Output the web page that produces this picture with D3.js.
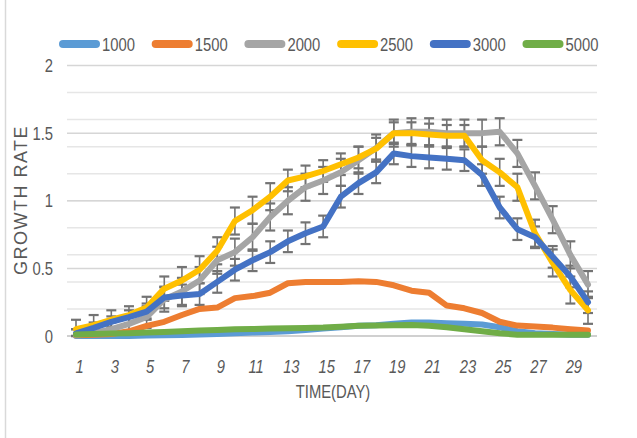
<!DOCTYPE html>
<html><head><meta charset="utf-8">
<script src="https://cdn.jsdelivr.net/npm/d3@7"></script>
<style>
html,body{margin:0;padding:0;background:#fff;}
svg{display:block;}
text{fill:#595959;}
</style></head>
<body><svg id="c" width="637" height="438"></svg>
<script>
const days = [1,2,3,4,5,6,7,8,9,10,11,12,13,14,15,16,17,18,19,20,21,22,23,24,25,26,27,28,29,30];
const xTickLabels = [1,3,5,7,9,11,13,15,17,19,21,23,25,27,29];
const yTicks = [0,0.5,1,1.5,2];
const seriesNames = ["1000","1500","2000","2500","3000","5000"];
const seriesColors = ["#5b9bd5","#ed7d31","#a5a5a5","#ffc000","#4472c4","#70ad47"];
const s1000 = [0,0,0,0,0.003,0.005,0.008,0.012,0.015,0.02,0.025,0.03,0.035,0.045,0.055,0.065,0.075,0.08,0.09,0.1,0.1,0.095,0.09,0.085,0.065,0.035,0.02,0.015,0.01,0.01];
const s1500 = [0.005,0.01,0.015,0.035,0.075,0.105,0.155,0.2,0.21,0.28,0.295,0.32,0.39,0.4,0.4,0.4,0.405,0.4,0.375,0.335,0.32,0.225,0.205,0.17,0.105,0.077,0.07,0.062,0.05,0.04];
const s2000 = [0.01,0.02,0.05,0.09,0.14,0.27,0.33,0.41,0.56,0.62,0.73,0.88,1.0,1.1,1.15,1.21,1.3,1.39,1.5,1.51,1.51,1.5,1.5,1.5,1.51,1.35,1.11,0.86,0.6,0.38];
const s2500 = [0.05,0.08,0.12,0.155,0.21,0.35,0.41,0.49,0.63,0.85,0.93,1.03,1.15,1.18,1.22,1.27,1.32,1.385,1.5,1.5,1.49,1.48,1.48,1.3,1.21,1.1,0.76,0.54,0.34,0.19];
const s3000 = [0.02,0.06,0.105,0.14,0.18,0.285,0.3,0.31,0.4,0.49,0.56,0.62,0.7,0.76,0.81,1.03,1.13,1.21,1.35,1.33,1.32,1.31,1.3,1.19,0.95,0.79,0.73,0.585,0.44,0.25];
const s5000 = [0.012,0.015,0.018,0.021,0.025,0.03,0.035,0.04,0.045,0.05,0.052,0.055,0.058,0.06,0.062,0.068,0.075,0.078,0.08,0.082,0.075,0.065,0.05,0.035,0.02,0.01,0.01,0.01,0.01,0.01];
const err2000 = [0.04,0.05,0.05,0.06,0.08,0.09,0.1,0.1,0.1,0.1,0.1,0.1,0.1,0.1,0.1,0.1,0.1,0.1,0.1,0.1,0.1,0.1,0.1,0.1,0.1,0.1,0.1,0.1,0.1,0.1];
const err2500 = [0.07,0.075,0.07,0.065,0.08,0.09,0.1,0.1,0.1,0.1,0.1,0.1,0.08,0.08,0.08,0.08,0.08,0.08,0.08,0.08,0.08,0.08,0.08,0.1,0.1,0.1,0.1,0.1,0.1,0.1];
const err3000 = [0.03,0.04,0.04,0.05,0.06,0.08,0.08,0.08,0.08,0.08,0.08,0.08,0.08,0.08,0.08,0.08,0.08,0.08,0.08,0.08,0.08,0.08,0.08,0.08,0.08,0.08,0.08,0.08,0.08,0.08];

const allSeries = [s1000,s1500,s2000,s2500,s3000,s5000];
const errSeries = [[s2000,err2000],[s2500,err2500],[s3000,err3000]];

const FONT = "'Liberation Sans',Arial,sans-serif";
const NARROW = 0.78;
const svg = d3.select("#c");
const x = d3.scalePoint().domain(days).range([76,588]);
const y = d3.scaleLinear().domain([0,2]).range([336,65.5]);
const gridX0 = 67, gridX1 = 597;

function narrowText(parent, tx, ty, str, size, anchor, italic){
  const g = parent.append("g").attr("transform",`translate(${tx},${ty}) scale(${NARROW},1)`);
  return g.append("text").attr("x",0).attr("y",0).attr("text-anchor",anchor)
    .attr("font-family",FONT).attr("font-size",size).attr("font-style",italic?"italic":"normal").text(str);
}

// outer border (left)
svg.append("line").attr("x1",5.5).attr("x2",5.5).attr("y1",0).attr("y2",438).attr("stroke","#d9d9d9").attr("stroke-width",1.5);

// light grid 0.2 steps
const minor = d3.range(0.2,2,0.2);
svg.append("g").selectAll("line").data(minor).join("line")
  .attr("x1",gridX0).attr("x2",gridX1).attr("y1",d=>y(d)).attr("y2",d=>y(d))
  .attr("stroke","#e6e6e6").attr("stroke-width",1.5);
// major grid
svg.append("g").selectAll("line").data(yTicks).join("line")
  .attr("x1",gridX0).attr("x2",gridX1).attr("y1",d=>y(d)).attr("y2",d=>y(d))
  .attr("stroke",d=>d===0?"#d0d0d0":"#d6d6d6").attr("stroke-width",d=>d===0?2:1.5);

// y axis labels
const yAxis = d3.axisLeft(y).tickValues(yTicks).tickSize(0).tickPadding(0).tickFormat(d=>String(d));
const gy = svg.append("g").attr("transform","translate(53,0)").call(yAxis);
gy.select(".domain").remove();
gy.selectAll("text").attr("font-family",FONT).attr("font-size",19).attr("transform",`scale(${NARROW},1)`).style("fill","#595959");

// x axis labels
const xAxis = d3.axisBottom(x).tickValues(xTickLabels).tickSize(0).tickPadding(0);
const gx = svg.append("g").attr("transform","translate(3,360)").call(xAxis);
gx.select(".domain").remove();
gx.selectAll("text").attr("font-family",FONT).attr("font-size",18).attr("font-style","italic").attr("transform",`scale(0.82,1)`).style("fill","#595959");

// axis titles
narrowText(svg, 333, 398, "TIME(DAY)", 19, "middle", false);
svg.append("text").attr("transform","translate(27,200) rotate(-90)").attr("text-anchor","middle")
  .attr("font-family",FONT).attr("font-size",18).attr("letter-spacing",1.5).text("GROWTH RATE");

// error bars
const eb = svg.append("g").attr("stroke","#737373");
errSeries.forEach(([vals,errs])=>{
  const g = eb.append("g");
  days.forEach((d,i)=>{
    const cx = x(d), lo = Math.max(0,vals[i]-errs[i]), hi = vals[i]+errs[i];
    g.append("line").attr("x1",cx).attr("x2",cx).attr("y1",y(lo)).attr("y2",y(hi)).attr("stroke-width",1.6);
    [lo,hi].forEach(v=>{
      g.append("line").attr("x1",cx-5).attr("x2",cx+5).attr("y1",y(v)).attr("y2",y(v)).attr("stroke-width",2.2);
    });
  });
});

// lines
const line = d3.line().x((v,i)=>x(days[i])).y(v=>y(v));
allSeries.forEach((vals,k)=>{
  svg.append("path").datum(vals).attr("d",line).attr("fill","none")
    .attr("stroke",seriesColors[k]).attr("stroke-width",6).attr("stroke-linejoin","round").attr("stroke-linecap","round");
});

// legend
const lg = svg.append("g");
seriesNames.forEach((n,k)=>{
  const lx = 59 + k*92.7;
  lg.append("rect").attr("x",lx).attr("y",40).attr("width",41).attr("height",8).attr("rx",4)
    .attr("fill",seriesColors[k]);
  narrowText(lg, lx+43, 51, n, 19, "start", false);
});
</script></body></html>
